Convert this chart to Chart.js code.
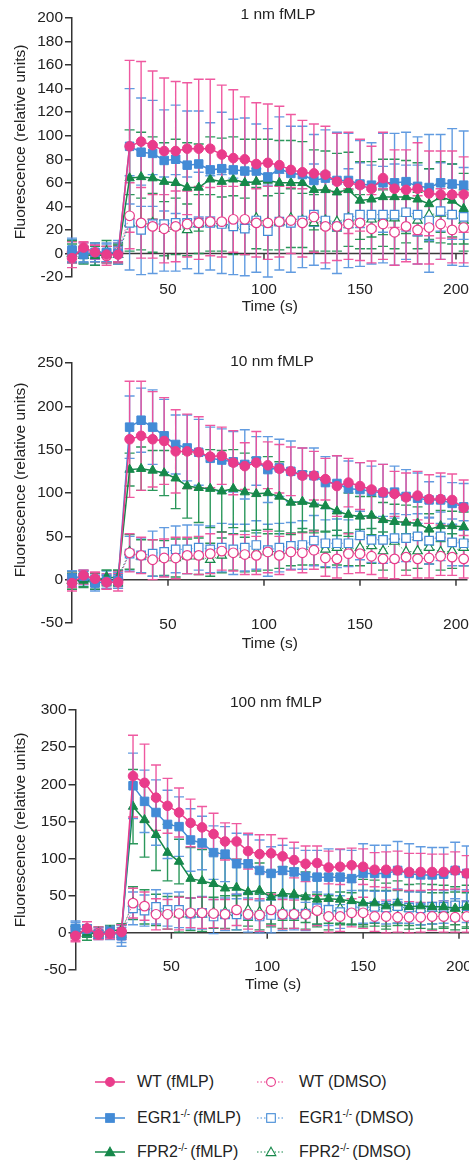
<!DOCTYPE html>
<html>
<head>
<meta charset="utf-8">
<script src="https://cdn.jsdelivr.net/npm/chart.js@4.4.0/dist/chart.umd.min.js"></script>
<style>
  html, body { margin: 0; padding: 0; background: #fff; }
  body { width: 469px; height: 1163px; overflow: hidden; position: relative;
         font-family: "Liberation Sans", Arial, sans-serif; color: #222; }
  canvas { position: absolute; left: 0; }
  .leg { position: absolute; height: 20px; display: flex; align-items: center;
         font-size: 16px; white-space: nowrap; }
  .leg sup { font-size: 10px; vertical-align: 6px; line-height: 0; margin-right: 3px; }
</style>
</head>
<body>
<canvas id="c1" width="520" height="320" style="top:0px;width:520px;height:320px"></canvas>
<canvas id="c2" width="520" height="330" style="top:330px;width:520px;height:330px"></canvas>
<canvas id="c3" width="520" height="340" style="top:660px;width:520px;height:340px"></canvas>
<div id="legend"></div>

<script>
// time points (s)
const times = [0, 6, 12, 18, 24, 30, 36, 42, 48, 54, 60, 66, 72, 78, 84, 90, 96, 102, 108, 114,
               120, 126, 132, 138, 144, 150, 156, 162, 168, 174, 180, 186, 192, 198, 204];
const xTicks = [50, 100, 150, 200];
const yTicks1 = [-20, 0, 20, 40, 60, 80, 100, 120, 140, 160, 180, 200];
const yTicks2 = [-50, 0, 50, 100, 150, 200, 250];
const yTicks3 = [-50, 0, 50, 100, 150, 200, 250, 300];
const panelTitles = ['1 nm fMLP', '10 nm fMLP', '100 nm fMLP'];
const seriesNames = ['WT (fMLP)', 'EGR1-/- (fMLP)', 'FPR2-/- (fMLP)', 'WT (DMSO)', 'EGR1-/- (DMSO)', 'FPR2-/- (DMSO)'];
const legendLabels = ['WT (fMLP)', 'EGR1<sup>-/-</sup>(fMLP)', 'FPR2<sup>-/-</sup>(fMLP)',
                      'WT (DMSO)', 'EGR1<sup>-/-</sup>(DMSO)', 'FPR2<sup>-/-</sup>(DMSO)'];

// ---- 1 nm fMLP ----
const wt1      = [-4, 5, 1, -1, -1, 91, 95, 92, 87, 87, 89, 89, 89, 84, 81, 80, 76, 77, 75, 71, 69, 68, 67, 61, 60, 58, 55, 64, 55, 54, 55, 51, 50, 50, 50];
const wt1Err   = [8, 5, 6, 7, 7, 73, 68, 63, 62, 59, 56, 59, 59, 59, 58, 53, 52, 50, 50, 47, 44, 42, 41, 41, 43, 39, 36, 39, 33, 34, 39, 36, 37, 37, 32];
const egr1     = [3, -1, 1, 1, 0, 91, 86, 85, 79, 80, 75, 76, 71, 72, 71, 70, 70, 65, 72, 68, 67, 62, 64, 62, 62, 59, 58, 60, 60, 61, 57, 56, 60, 59, 58];
const egr1Err  = [10, 7, 8, 8, 9, 49, 46, 45, 43, 46, 46, 45, 40, 48, 43, 45, 40, 41, 44, 40, 41, 39, 41, 41, 40, 37, 36, 42, 42, 42, 42, 45, 41, 47, 46];
const fpr1     = [2, -1, -2, -1, 0, 64, 65, 64, 61, 60, 56, 56, 63, 61, 63, 60, 61, 62, 60, 60, 60, 54, 54, 52, 54, 45, 46, 48, 48, 48, 46, 42, 48, 45, 38];
const fpr1Err  = [9, 7, 8, 7, 8, 41, 38, 35, 33, 37, 38, 37, 36, 37, 36, 37, 36, 35, 36, 36, 35, 34, 33, 33, 32, 33, 32, 32, 32, 31, 31, 30, 30, 31, 30];
const wtD1     = [1, 3, 0, -2, 1, 32, 26, 23, 21, 23, 25, 26, 27, 27, 29, 29, 26, 26, 27, 28, 26, 31, 23, 23, 25, 26, 21, 25, 18, 23, 20, 22, 25, 20, 22];
const wtD1Err  = [9, 6, 7, 8, 8, 28, 30, 27, 29, 30, 28, 31, 29, 30, 28, 30, 29, 31, 30, 28, 29, 30, 31, 29, 30, 32, 29, 30, 28, 30, 29, 31, 30, 28, 30];
const egrD1    = [2, 1, -1, 0, 2, 26, 20, 25, 25, 26, 26, 26, 26, 25, 23, 21, 28, 19, 27, 26, 28, 33, 28, 23, 30, 33, 33, 33, 33, 35, 33, 28, 36, 33, 31];
const egrD1Err = [10, 8, 9, 8, 9, 40, 38, 42, 40, 41, 39, 43, 40, 42, 41, 40, 44, 39, 41, 42, 40, 43, 41, 40, 42, 44, 42, 41, 43, 40, 42, 44, 41, 43, 42];
const fprD1    = [0, -2, 1, 2, -1, 26, 25, 26, 21, 23, 20, 25, 26, 25, 24, 23, 30, 26, 27, 30, 28, 26, 28, 27, 30, 27, 29, 30, 30, 34, 28, 33, 34, 32, 28];
const fprD1Err = [8, 7, 8, 9, 8, 24, 22, 25, 23, 24, 22, 25, 24, 23, 25, 24, 26, 23, 24, 25, 23, 24, 26, 25, 24, 23, 25, 24, 26, 25, 24, 23, 25, 24, 26];

// ---- 10 nm fMLP ----
const wt2      = [-4, 5, 1, -3, -3, 162, 166, 162, 160, 148, 148, 147, 142, 143, 135, 131, 135, 132, 128, 125, 120, 120, 116, 108, 112, 108, 104, 101, 99, 95, 97, 93, 93, 92, 83];
const wt2Err   = [9, 6, 7, 8, 10, 67, 63, 55, 50, 48, 43, 41, 36, 33, 37, 27, 36, 27, 28, 28, 32, 28, 24, 35, 28, 27, 33, 32, 26, 28, 28, 28, 30, 30, 32];
const egr2     = [2, 4, -4, -2, -1, 176, 184, 176, 166, 156, 152, 147, 140, 138, 136, 133, 137, 127, 129, 125, 121, 120, 112, 111, 105, 104, 102, 100, 101, 96, 94, 92, 92, 88, 84];
const egr2Err  = [8, 7, 9, 8, 9, 36, 37, 43, 42, 34, 38, 38, 36, 36, 35, 40, 28, 38, 33, 35, 31, 32, 30, 32, 32, 31, 29, 33, 30, 31, 29, 21, 27, 24, 27];
const fpr2     = [-1, -1, -2, 3, 2, 127, 128, 126, 123, 117, 108, 106, 105, 102, 105, 101, 99, 100, 96, 89, 90, 87, 85, 79, 75, 73, 74, 69, 67, 66, 65, 58, 62, 62, 61];
const fpr2Err  = [10, 8, 9, 8, 9, 19, 25, 23, 26, 35, 37, 40, 45, 47, 45, 45, 42, 42, 40, 37, 35, 33, 30, 28, 25, 23, 22, 20, 20, 20, 19, 18, 18, 17, 17];
const wtD2     = [0, 3, 1, -2, 0, 31, 28, 23, 25, 25, 28, 28, 30, 33, 31, 29, 28, 32, 28, 32, 31, 34, 25, 24, 30, 30, 27, 24, 24, 26, 24, 25, 27, 26, 24];
const wtD2Err  = [9, 8, 8, 9, 10, 22, 21, 23, 22, 24, 21, 22, 23, 22, 21, 23, 22, 24, 22, 21, 23, 22, 21, 22, 23, 22, 21, 22, 23, 21, 22, 23, 22, 21, 22];
const egrD2    = [1, 2, -2, 0, 1, 30, 28, 30, 32, 35, 35, 37, 35, 37, 35, 37, 40, 34, 37, 39, 40, 45, 42, 42, 42, 51, 46, 46, 48, 48, 50, 45, 50, 43, 42];
const egrD2Err = [9, 8, 9, 10, 9, 20, 20, 26, 28, 27, 28, 26, 27, 28, 29, 27, 28, 30, 28, 27, 28, 29, 27, 28, 27, 28, 26, 27, 28, 27, 26, 27, 28, 27, 26];
const fprD2    = [-1, 1, 0, 2, 3, 32, 27, 25, 25, 25, 27, 27, 23, 28, 32, 29, 32, 32, 33, 35, 38, 37, 35, 37, 35, 37, 39, 33, 44, 32, 33, 37, 32, 33, 37];
const fprD2Err = [8, 9, 8, 9, 8, 20, 19, 21, 20, 22, 20, 21, 19, 20, 21, 20, 22, 21, 20, 19, 21, 20, 21, 20, 19, 21, 20, 22, 20, 21, 20, 19, 21, 20, 21];

// ---- 100 nm fMLP ----
const wt3      = [-4, 6, -2, -1, 1, 211, 202, 182, 171, 162, 148, 142, 133, 123, 123, 110, 106, 107, 103, 98, 93, 94, 88, 89, 91, 89, 85, 85, 84, 82, 82, 82, 82, 84, 80];
const wt3Err   = [8, 9, 7, 7, 10, 55, 52, 44, 37, 33, 32, 28, 28, 25, 24, 24, 26, 25, 24, 24, 24, 23, 22, 24, 23, 24, 23, 24, 26, 25, 25, 24, 24, 25, 24];
const egr3     = [6, 5, -2, 2, -4, 198, 177, 162, 146, 143, 125, 121, 108, 106, 93, 93, 84, 80, 84, 82, 76, 75, 75, 75, 73, 80, 80, 80, 84, 80, 78, 78, 79, 84, 80];
const egr3Err  = [10, 6, 5, 6, 14, 44, 42, 44, 46, 40, 42, 36, 36, 37, 41, 39, 41, 36, 34, 32, 35, 36, 38, 37, 38, 40, 38, 38, 39, 40, 38, 37, 36, 38, 37];
const fpr3     = [2, 0, -2, 3, 4, 170, 152, 132, 108, 96, 73, 70, 66, 60, 61, 55, 57, 48, 53, 52, 48, 45, 46, 45, 43, 40, 40, 36, 40, 35, 36, 35, 35, 33, 35];
const fpr3Err  = [6, 6, 5, 5, 8, 50, 50, 48, 38, 30, 42, 42, 42, 40, 38, 38, 37, 36, 36, 35, 34, 33, 33, 32, 32, 32, 31, 31, 30, 30, 30, 30, 29, 29, 29];
const wtD3     = [-2, 4, 0, 1, 2, 40, 36, 25, 25, 26, 27, 27, 26, 25, 31, 25, 24, 31, 25, 25, 25, 30, 22, 22, 27, 27, 22, 22, 21, 21, 21, 22, 22, 21, 22];
const wtD3Err  = [8, 7, 8, 7, 9, 20, 19, 21, 20, 22, 20, 21, 19, 20, 21, 20, 22, 21, 20, 19, 21, 20, 21, 20, 19, 21, 20, 22, 20, 21, 20, 19, 21, 20, 21];
const egrD3    = [5, 2, -1, 0, -3, 33, 30, 35, 31, 31, 26, 27, 22, 25, 25, 24, 22, 24, 25, 25, 26, 33, 31, 28, 34, 35, 35, 34, 36, 34, 33, 35, 35, 37, 36];
const egrD3Err = [9, 8, 8, 9, 10, 22, 21, 23, 22, 24, 21, 22, 23, 22, 21, 23, 22, 24, 22, 21, 23, 22, 21, 22, 23, 22, 21, 22, 23, 21, 22, 23, 22, 21, 22];
const fprD3    = [1, -1, 0, 2, 3, 40, 35, 31, 27, 25, 25, 25, 27, 28, 27, 31, 28, 31, 28, 27, 28, 30, 27, 33, 33, 34, 35, 33, 35, 33, 33, 33, 31, 33, 31];
const fprD3Err = [8, 9, 8, 8, 9, 22, 23, 21, 22, 24, 22, 23, 21, 22, 23, 22, 24, 23, 22, 21, 23, 22, 23, 22, 21, 23, 22, 24, 22, 23, 22, 21, 23, 22, 23];

const PINK = '#e93c8b', BLUE = '#438bd6', GREEN = '#16884a';
const styles = [
  { color: PINK,  err: 'rgba(238,80,155,0.95)',  shape: 'circle',   r: 4.8, open: false },
  { color: BLUE,  err: 'rgba(88,150,222,0.95)',  shape: 'rect',     r: 6,   open: false },
  { color: GREEN, err: 'rgba(32,145,82,0.95)',   shape: 'triangle', r: 5.4, open: false },
  { color: PINK,  err: 'rgba(238,80,155,0.95)',  shape: 'circle',   r: 4.8, open: true },
  { color: BLUE,  err: 'rgba(88,150,222,0.95)',  shape: 'rect',     r: 6,   open: true },
  { color: GREEN, err: 'rgba(32,145,82,0.95)',   shape: 'triangle', r: 5.4, open: true }
];

Chart.defaults.font.family = '"Liberation Sans", Arial, sans-serif';
Chart.defaults.font.size = 15.5;
Chart.defaults.color = '#222';

// draws the zero line, error bars and the panel / y titles
const panelDecor = {
  id: 'panelDecor',
  afterLayout(chart) {
    // let x tick labels sit level with the bottom of the y axis
    chart.scales.x.top -= 30;
    chart.scales.x._labelItems = null;
  },
  beforeDatasetsDraw(chart, args, opts) {
    const { ctx, chartArea, scales: { x, y } } = chart;
    const y0 = y.getPixelForValue(0);
    ctx.save();
    ctx.strokeStyle = '#3a3a3a';
    ctx.lineWidth = 1.5;
    ctx.beginPath();
    ctx.moveTo(chartArea.left, y0);
    ctx.lineTo(chartArea.right, y0);
    xTicks.forEach(v => {
      const px = x.getPixelForValue(v);
      ctx.moveTo(px, y0);
      ctx.lineTo(px, y0 + 6);
    });
    ctx.stroke();

    const sets = chart.data.datasets;
    for (let d = sets.length - 1; d >= 0; d--) {
      const ds = sets[d];
      ctx.strokeStyle = ds.errColor;
      ctx.lineWidth = 1.4;
      ctx.beginPath();
      ds.data.forEach((p, i) => {
        const e = ds.errors[i];
        const px = x.getPixelForValue(p.x);
        const top = y.getPixelForValue(p.y + e);
        const bot = y.getPixelForValue(p.y - e);
        ctx.moveTo(px, top); ctx.lineTo(px, bot);
        ctx.moveTo(px - 5, top); ctx.lineTo(px + 5, top);
        ctx.moveTo(px - 5, bot); ctx.lineTo(px + 5, bot);
      });
      ctx.stroke();
    }
    ctx.restore();
  },
  afterDraw(chart, args, opts) {
    const ctx = chart.ctx;
    ctx.save();
    ctx.fillStyle = '#222';
    ctx.font = '15.5px "Liberation Sans", Arial, sans-serif';
    ctx.textAlign = 'center';
    ctx.textBaseline = 'middle';
    ctx.fillText(opts.title, opts.titleX, opts.titleY);
    ctx.translate(21, opts.yTitleY);
    ctx.rotate(-Math.PI / 2);
    ctx.fillText('Fluorescence (relative units)', 0, 0);
    ctx.restore();
  }
};

function makeDatasets(values, errors) {
  return values.map((vals, k) => {
    const s = styles[k];
    return {
      label: seriesNames[k],
      data: times.map((t, i) => ({ x: t, y: vals[i] })),
      errors: errors[k],
      errColor: s.err,
      borderColor: s.open ? s.color + 'cc' : s.color,
      borderWidth: s.open ? 1 : 1.5,
      borderDash: s.open ? [1.5, 2] : [],
      pointStyle: s.shape,
      pointRadius: s.r,
      pointBackgroundColor: s.open ? '#fff' : s.color,
      pointBorderColor: s.color,
      pointBorderWidth: s.open ? 1.2 : 1,
      fill: false,
      tension: 0,
      clip: false
    };
  });
}

const panels = [
  { id: 'c1', W: 520, H: 320, left: 72, top: 18, bottom: 277, right: 467.5, yTicks: yTicks1,
    tickPad: 33, titlePad: 4, titleX: 278, titleY: 15, yTitleY: 142,
    values: [wt1, egr1, fpr1, wtD1, egrD1, fprD1],
    errors: [wt1Err, egr1Err, fpr1Err, wtD1Err, egrD1Err, fprD1Err] },
  { id: 'c2', W: 520, H: 330, left: 72, top: 33, bottom: 293, right: 467.5, yTicks: yTicks2,
    tickPad: 22, titlePad: 7.4, titleX: 272, titleY: 32, yTitleY: 150,
    values: [wt2, egr2, fpr2, wtD2, egrD2, fprD2],
    errors: [wt2Err, egr2Err, fpr2Err, wtD2Err, egrD2Err, fprD2Err] },
  { id: 'c3', W: 520, H: 340, left: 75.5, top: 50, bottom: 310, right: 470.5, yTicks: yTicks3,
    tickPad: 17, titlePad: 5.7, titleX: 276, titleY: 43, yTitleY: 170,
    values: [wt3, egr3, fpr3, wtD3, egrD3, fprD3],
    errors: [wt3Err, egr3Err, fpr3Err, wtD3Err, egrD3Err, fprD3Err] }
];

panels.forEach((p, n) => {
  new Chart(document.getElementById(p.id), {
    type: 'line',
    data: { datasets: makeDatasets(p.values, p.errors) },
    options: {
      responsive: false,
      animation: false,
      layout: { padding: { top: p.top, right: p.W - p.right, bottom: 0, left: 0 } },
      plugins: {
        legend: { display: false },
        tooltip: { enabled: false },
        panelDecor: { title: panelTitles[n], titleX: p.titleX, titleY: p.titleY, yTitleY: p.yTitleY }
      },
      scales: {
        x: {
          type: 'linear', min: 0, max: 206,
          afterBuildTicks: a => { a.ticks = xTicks.map(v => ({ value: v })); },
          afterFit: s => { s.height = p.H - p.bottom; },
          grid: { display: false, drawTicks: false },
          border: { display: false },
          ticks: { padding: p.tickPad, maxRotation: 0, autoSkip: false },
          title: { display: true, text: 'Time (s)', padding: { top: 0, bottom: p.titlePad } }
        },
        y: {
          min: p.yTicks[0], max: p.yTicks[p.yTicks.length - 1],
          afterBuildTicks: a => { a.ticks = p.yTicks.map(v => ({ value: v })); },
          afterFit: s => { s.width = p.left; },
          grid: { drawOnChartArea: false, tickLength: 7, color: '#333', lineWidth: 1.5 },
          border: { display: true, color: '#333', width: 1.5 },
          ticks: { padding: 2, autoSkip: false }
        }
      }
    },
    plugins: [panelDecor]
  });
});

// legend (html so the superscripts stay real text)
const legendRows = [1082, 1118, 1152];
const legendCols = [{ svgLeft: 94, w: 32, gap: 11 }, { svgLeft: 256, w: 30, gap: 13 }];
const legend = document.getElementById('legend');
styles.forEach((s, k) => {
  const col = legendCols[Math.floor(k / 3)];
  const row = legendRows[k % 3];
  const cx = col.w / 2;
  const fill = s.open ? '#fff' : s.color;
  let mark;
  if (s.shape === 'circle') mark = `<circle cx="${cx}" cy="10" r="4.4" fill="${fill}" stroke="${s.color}" stroke-width="1.1"/>`;
  else if (s.shape === 'rect') mark = `<rect x="${cx - 4.3}" y="5.7" width="8.6" height="8.6" fill="${fill}" stroke="${s.color}" stroke-width="1.1"/>`;
  else mark = `<polygon points="${cx},5.2 ${cx + 4.8},13.6 ${cx - 4.8},13.6" fill="${fill}" stroke="${s.color}" stroke-width="1.1"/>`;
  const dash = s.open ? 'stroke-dasharray="1.5 2"' : '';
  const div = document.createElement('div');
  div.className = 'leg';
  div.style.left = col.svgLeft + 'px';
  div.style.top = (row - 10) + 'px';
  div.innerHTML = `<svg width="${col.w}" height="20" style="margin-right:${col.gap}px">` +
    `<line x1="1" y1="10" x2="${col.w - 1}" y2="10" stroke="${s.color}" stroke-width="${s.open ? 1 : 1.5}" ${dash}/>` +
    mark + `</svg><span>${legendLabels[k]}</span>`;
  legend.appendChild(div);
});
</script>
</body>
</html>
